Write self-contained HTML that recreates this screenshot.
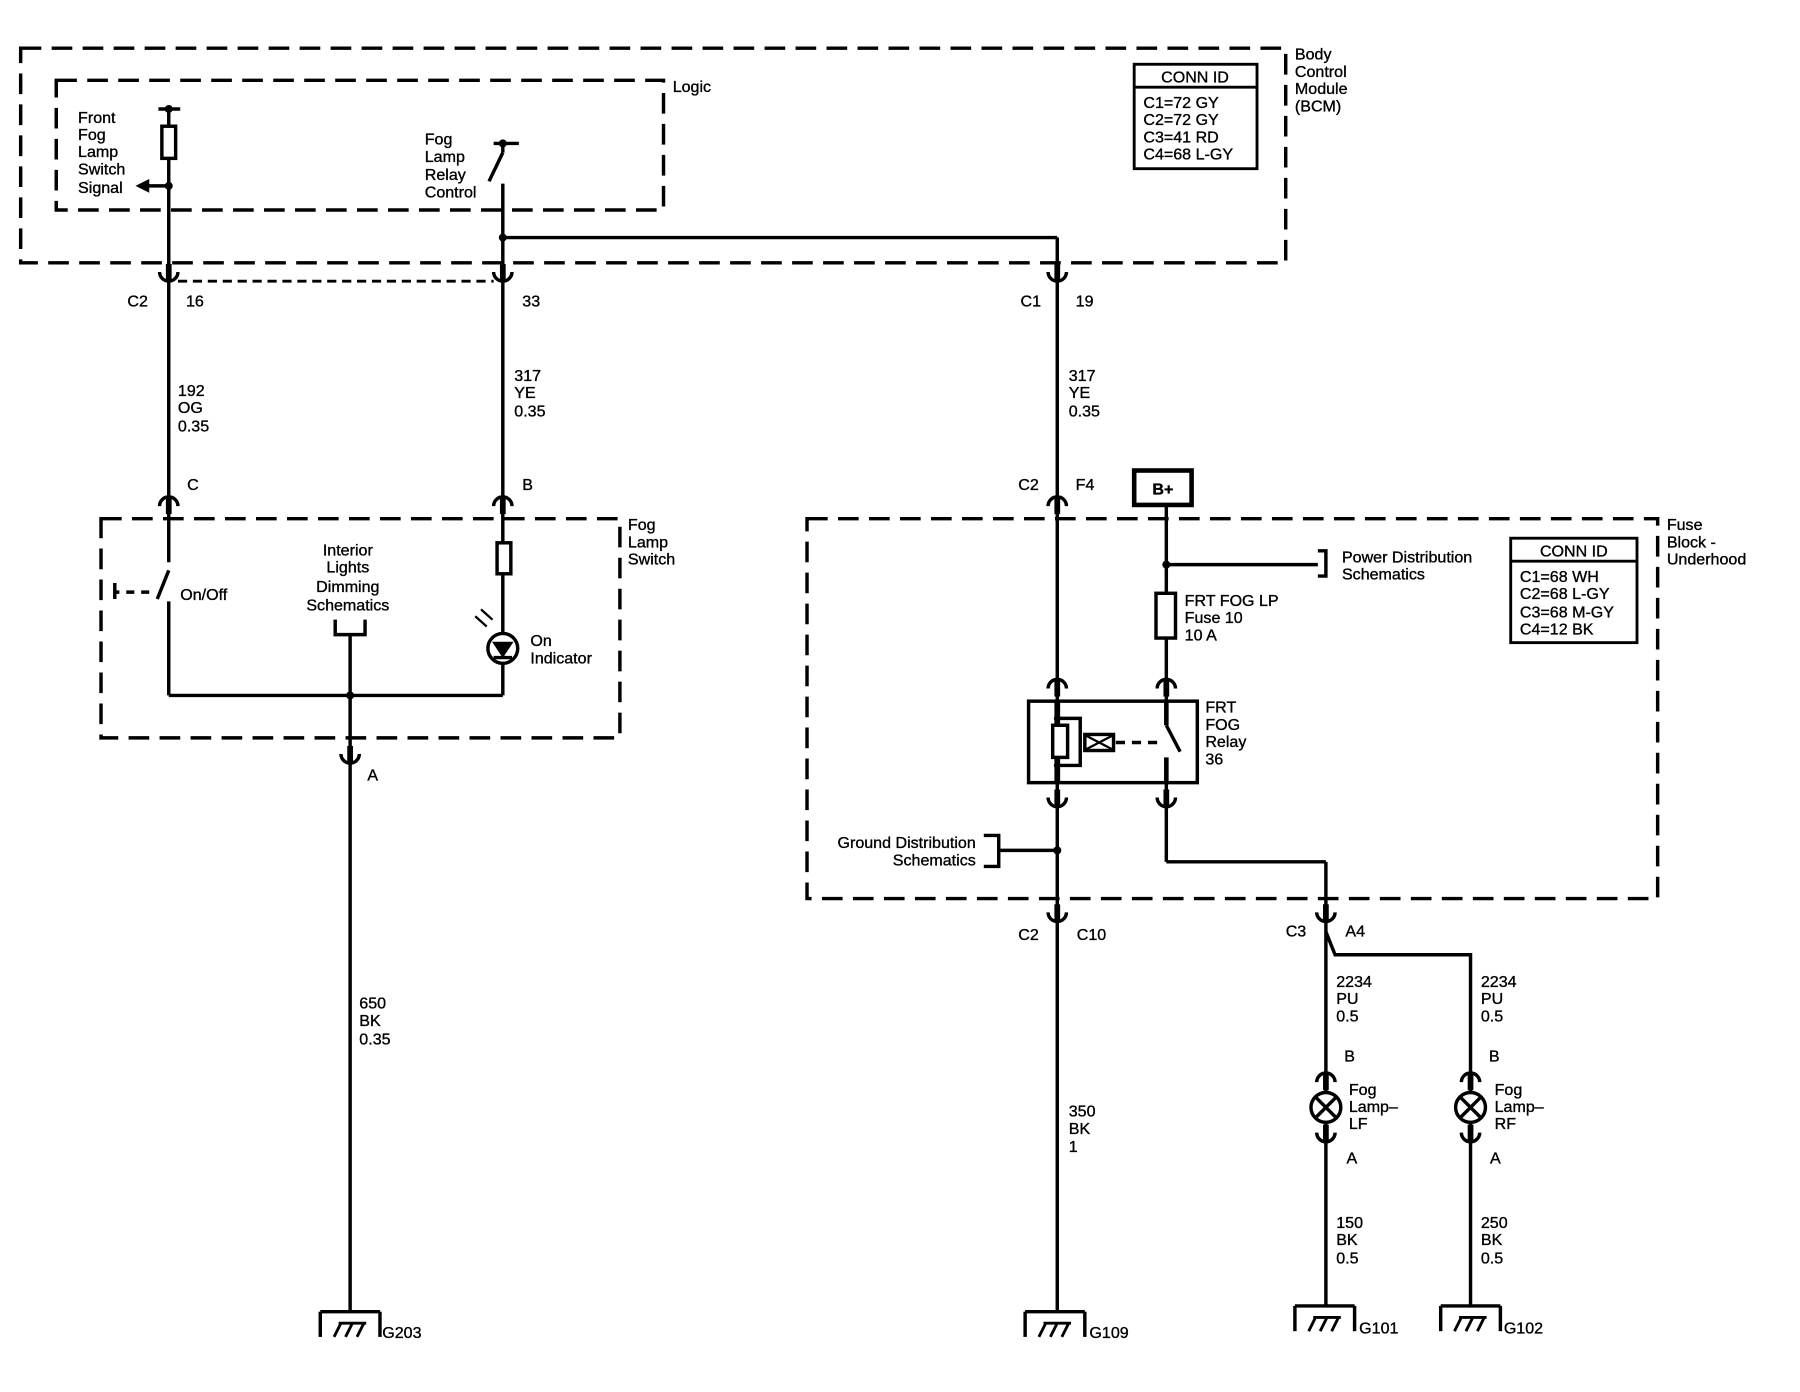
<!DOCTYPE html>
<html><head><meta charset="utf-8"><style>
html,body{margin:0;padding:0;background:#fff;}
svg{display:block;}
text{font-family:"Liberation Sans",sans-serif;font-size:14px;fill:#000;stroke:#000;stroke-width:0.3;}
</style></head><body>
<svg width="1800" height="1392" viewBox="0 0 1568 1213" preserveAspectRatio="none" xmlns="http://www.w3.org/2000/svg">
<defs>
<g id="cu"><path d="M-8,-5 A8,8 0 0 0 8,-5" fill="none" stroke="#000" stroke-width="3"/><line x1="0" y1="-12" x2="0" y2="3" stroke="#000" stroke-width="5"/></g>
<g id="cd"><path d="M-8,5 A8,8 0 0 1 8,5" fill="none" stroke="#000" stroke-width="3"/><line x1="0" y1="12" x2="0" y2="-3" stroke="#000" stroke-width="5"/></g>
<g id="gnd"><line x1="-26" y1="0" x2="26" y2="0" stroke="#000" stroke-width="3"/><line x1="-26" y1="0" x2="-26" y2="22" stroke="#000" stroke-width="3"/><line x1="26" y1="0" x2="26" y2="22" stroke="#000" stroke-width="3"/><path d="M-14,22 L-8,10 M-4,22 L2,10 M6,22 L12,10 M-10,10 L14,10" stroke="#000" stroke-width="2.5" fill="none"/></g>
<g id="lamp"><circle r="13" fill="#fff" stroke="#000" stroke-width="3"/><path d="M-9,-9 L9,9 M-9,9 L9,-9" stroke="#000" stroke-width="3"/></g>
</defs>
<g fill="none" stroke="#000" stroke-width="3">
<g stroke-dasharray="18,9">
<rect x="18" y="42" width="1102" height="187"/>
<rect x="49" y="70" width="529" height="113"/>
<rect x="88" y="452" width="452" height="191"/>
<rect x="703" y="452" width="741" height="331"/>
</g>
<line x1="155" y1="245" x2="430" y2="245" stroke-dasharray="8,5" stroke-width="2.5"/>
<rect x="988" y="56" width="107" height="91" stroke-width="2.5"/><line x1="988" y1="76" x2="1095" y2="76" stroke-width="2.5"/>
<rect x="1316" y="469" width="110" height="91" stroke-width="2.5"/><line x1="1316" y1="489" x2="1426" y2="489" stroke-width="2.5"/>
<line x1="138" y1="95" x2="157" y2="95"/>
<line x1="147" y1="95" x2="147" y2="490"/>
<rect x="141" y="110" width="12" height="28" fill="#fff"/>
<line x1="147" y1="162" x2="128" y2="162"/>
<line x1="147" y1="497" x2="137" y2="522"/>
<line x1="130" y1="516" x2="105" y2="516" stroke-dasharray="7,6"/>
<path d="M100,508 L100,522 M100,516 L104,516"/>
<line x1="147" y1="524" x2="147" y2="606"/>
<line x1="147" y1="606" x2="438" y2="606"/>
<path d="M292,540 L292,553 L318,553 L318,540"/>
<line x1="305" y1="553" x2="305" y2="1143"/>
<line x1="430" y1="125" x2="452" y2="125"/>
<line x1="438" y1="125" x2="438" y2="133"/>
<line x1="438" y1="133" x2="426" y2="158"/>
<line x1="438" y1="160" x2="438" y2="473"/>
<rect x="433" y="473" width="12" height="27" fill="#fff"/>
<line x1="438" y1="500" x2="438" y2="606"/>
<circle cx="438" cy="565" r="13" fill="#fff"/>
<path d="M430,560 L446,560 L438,572 Z" fill="#000" stroke-width="1.5"/>
<line x1="430" y1="573" x2="446" y2="573"/>
<path d="M414,537 L424,546 M419,531 L429,540" stroke-width="2"/>
<line x1="438" y1="207" x2="921" y2="207"/>
<line x1="921" y1="207" x2="921" y2="1143"/>
<rect x="988" y="410" width="50" height="30" stroke-width="4"/>
<line x1="1016" y1="440" x2="1016" y2="517"/>
<rect x="1007" y="517" width="17" height="39" fill="#fff"/>
<line x1="1016" y1="556" x2="1016" y2="611"/>
<line x1="1016" y1="492" x2="1148" y2="492"/>
<path d="M1148,480 L1155,480 L1155,502 L1148,502"/>
<rect x="896" y="611" width="147" height="71"/>
<line x1="921" y1="611" x2="921" y2="682" stroke-width="5"/>
<path d="M921,626 L941,626 L941,667 L921,667"/>
<rect x="917" y="632" width="13" height="28" fill="#fff"/>
<rect x="945" y="640" width="25" height="14" fill="#fff"/>
<path d="M946,641 L969,653 M946,653 L969,641" stroke-width="2"/>
<line x1="972" y1="647" x2="1008" y2="647" stroke-dasharray="8,6"/>
<line x1="1016" y1="611" x2="1016" y2="632" stroke-width="4"/>
<line x1="1016" y1="632" x2="1028" y2="655"/>
<line x1="1016" y1="660" x2="1016" y2="682" stroke-width="4"/>
<line x1="1016" y1="682" x2="1016" y2="751"/>
<line x1="1016" y1="751" x2="1155" y2="751"/>
<line x1="1155" y1="751" x2="1155" y2="1138"/>
<path d="M1155,812 L1163,832 L1281,832 L1281,1138"/>
<path d="M857,728 L870,728 L870,755 L857,755"/>
<line x1="870" y1="741" x2="921" y2="741"/>
</g>
<g fill="#000">
<circle cx="147" cy="95" r="3.5"/><circle cx="147" cy="162" r="3.5"/>
<circle cx="438" cy="125" r="3.5"/><circle cx="438" cy="207" r="3.5"/>
<circle cx="305" cy="606" r="3.5"/><circle cx="1016" cy="492" r="3.5"/>
<circle cx="921" cy="741" r="3.5"/><circle cx="921" cy="626" r="3"/><circle cx="921" cy="667" r="3"/>
<path d="M118,162 L130,156 L130,168 Z"/>
</g>
<use href="#cu" x="147" y="242"/><use href="#cu" x="438" y="242"/><use href="#cu" x="921" y="242"/>
<use href="#cd" x="147" y="436"/><use href="#cd" x="438" y="436"/><use href="#cd" x="921" y="436"/>
<use href="#cu" x="305" y="662"/>
<use href="#cd" x="921" y="595"/><use href="#cd" x="1016" y="595"/>
<use href="#cu" x="921" y="700"/><use href="#cu" x="1016" y="700"/>
<use href="#cu" x="921" y="800"/><use href="#cu" x="1155" y="800"/>
<use href="#cd" x="1155" y="938"/><use href="#cd" x="1281" y="938"/>
<use href="#cu" x="1155" y="992"/><use href="#cu" x="1281" y="992"/>
<use href="#lamp" x="1155" y="965"/><use href="#lamp" x="1281" y="965"/>
<use href="#gnd" x="305" y="1143"/><use href="#gnd" x="919" y="1143"/>
<use href="#gnd" x="1154" y="1138"/><use href="#gnd" x="1281" y="1138"/>
<text x="1128" y="52">Body</text><text x="1128" y="67">Control</text><text x="1128" y="82">Module</text><text x="1128" y="97">(BCM)</text>
<text x="586" y="80">Logic</text>
<text x="1041" y="72" text-anchor="middle">CONN ID</text>
<text x="996" y="94">C1=72 GY</text><text x="996" y="109">C2=72 GY</text><text x="996" y="124">C3=41 RD</text><text x="996" y="139">C4=68 L-GY</text>
<text x="68" y="107">Front</text><text x="68" y="122">Fog</text><text x="68" y="137">Lamp</text><text x="68" y="152">Switch</text><text x="68" y="168">Signal</text>
<text x="370" y="126">Fog</text><text x="370" y="141">Lamp</text><text x="370" y="157">Relay</text><text x="370" y="172">Control</text>
<text x="111" y="267">C2</text><text x="162" y="267">16</text><text x="455" y="267">33</text>
<text x="889" y="267">C1</text><text x="937" y="267">19</text>
<text x="155" y="345">192</text><text x="155" y="360">OG</text><text x="155" y="376">0.35</text>
<text x="448" y="332">317</text><text x="448" y="347">YE</text><text x="448" y="363">0.35</text>
<text x="931" y="332">317</text><text x="931" y="347">YE</text><text x="931" y="363">0.35</text>
<text x="163" y="427">C</text><text x="455" y="427">B</text><text x="887" y="427">C2</text><text x="937" y="427">F4</text>
<text x="1013" y="431" text-anchor="middle" font-weight="bold">B+</text>
<text x="547" y="462">Fog</text><text x="547" y="477">Lamp</text><text x="547" y="492">Switch</text>
<text x="303" y="484" text-anchor="middle">Interior</text><text x="303" y="499" text-anchor="middle">Lights</text><text x="303" y="516" text-anchor="middle">Dimming</text><text x="303" y="532" text-anchor="middle">Schematics</text>
<text x="157" y="523">On/Off</text>
<text x="462" y="563">On</text><text x="462" y="578">Indicator</text>
<text x="320" y="680">A</text>
<text x="1452" y="462">Fuse</text><text x="1452" y="477">Block -</text><text x="1452" y="492">Underhood</text>
<text x="1169" y="490">Power Distribution</text><text x="1169" y="505">Schematics</text>
<text x="1371" y="485" text-anchor="middle">CONN ID</text>
<text x="1324" y="507">C1=68 WH</text><text x="1324" y="522">C2=68 L-GY</text><text x="1324" y="538">C3=68 M-GY</text><text x="1324" y="553">C4=12 BK</text>
<text x="1032" y="528">FRT FOG LP</text><text x="1032" y="543">Fuse 10</text><text x="1032" y="558">10 A</text>
<text x="1050" y="621">FRT</text><text x="1050" y="636">FOG</text><text x="1050" y="651">Relay</text><text x="1050" y="666">36</text>
<text x="850" y="739" text-anchor="end">Ground Distribution</text><text x="850" y="754" text-anchor="end">Schematics</text>
<text x="887" y="819">C2</text><text x="938" y="819">C10</text>
<text x="1120" y="816">C3</text><text x="1172" y="816">A4</text>
<text x="1164" y="860">2234</text><text x="1164" y="875">PU</text><text x="1164" y="890">0.5</text>
<text x="1290" y="860">2234</text><text x="1290" y="875">PU</text><text x="1290" y="890">0.5</text>
<text x="1171" y="925">B</text><text x="1297" y="925">B</text>
<text x="1175" y="954">Fog</text><text x="1175" y="969">Lamp–</text><text x="1175" y="984">LF</text>
<text x="1302" y="954">Fog</text><text x="1302" y="969">Lamp–</text><text x="1302" y="984">RF</text>
<text x="1173" y="1014">A</text><text x="1298" y="1014">A</text>
<text x="313" y="879">650</text><text x="313" y="894">BK</text><text x="313" y="910">0.35</text>
<text x="931" y="973">350</text><text x="931" y="988">BK</text><text x="931" y="1004">1</text>
<text x="1164" y="1070">150</text><text x="1164" y="1085">BK</text><text x="1164" y="1101">0.5</text>
<text x="1290" y="1070">250</text><text x="1290" y="1085">BK</text><text x="1290" y="1101">0.5</text>
<text x="333" y="1166">G203</text><text x="949" y="1166">G109</text><text x="1184" y="1162">G101</text><text x="1310" y="1162">G102</text>
</svg>
</body></html>
